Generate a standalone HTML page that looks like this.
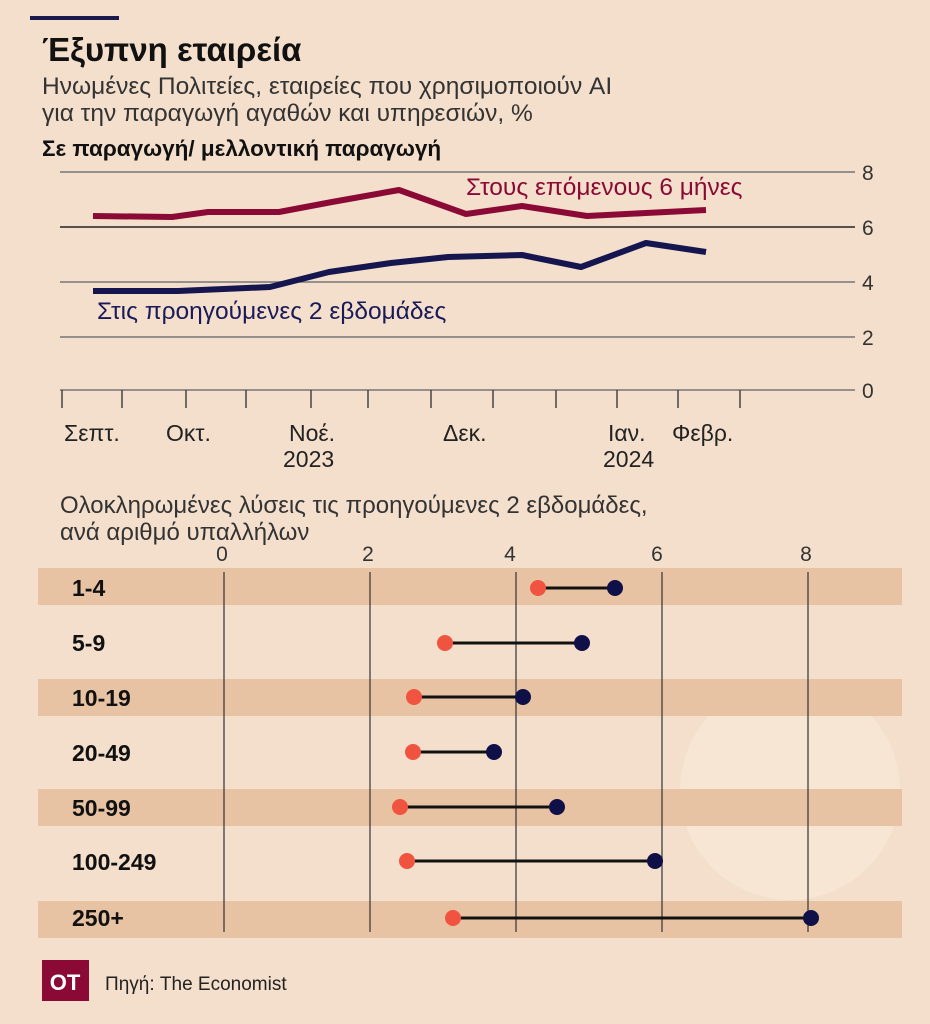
<!DOCTYPE html>
<html><head><meta charset="utf-8"><style>
body{margin:0;background:#f3dfcb;}
svg{display:block;font-family:"Liberation Sans",sans-serif;}
</style></head><body>
<svg width="930" height="1024" viewBox="0 0 930 1024">
<rect width="930" height="1024" fill="#f3dfcb"/>
<circle cx="790" cy="790" r="110" fill="#f7e8d6" opacity="0.7"/>
<rect x="30" y="16" width="89" height="4" fill="#1b1a4d"/>
<text x="42" y="61" font-size="33" font-weight="bold" fill="#111">Έξυπνη εταιρεία</text>
<text x="42" y="94" font-size="24.5" fill="#333">Ηνωμένες Πολιτείες, εταιρείες που χρησιμοποιούν AI</text>
<text x="42" y="121" font-size="24.5" fill="#333">για την παραγωγή αγαθών και υπηρεσιών, %</text>
<text x="42" y="156" font-size="22.5" font-weight="bold" fill="#111">Σε παραγωγή/ μελλοντική παραγωγή</text>
<g stroke-width="1.5">
<line x1="60" y1="172" x2="855" y2="172" stroke="#777"/>
<line x1="60" y1="227" x2="855" y2="227" stroke="#222"/>
<line x1="60" y1="282" x2="855" y2="282" stroke="#777"/>
<line x1="60" y1="337" x2="855" y2="337" stroke="#777"/>
<line x1="60" y1="390" x2="855" y2="390" stroke="#777"/>
</g>
<g font-size="21" fill="#333">
<text x="862" y="180">8</text><text x="862" y="235">6</text><text x="862" y="290">4</text><text x="862" y="345">2</text><text x="862" y="398">0</text>
</g>
<g stroke="#444" stroke-width="1.5">
<line x1="62" y1="390" x2="62" y2="408"/><line x1="122" y1="390" x2="122" y2="408"/><line x1="186" y1="390" x2="186" y2="408"/><line x1="246" y1="390" x2="246" y2="408"/><line x1="311" y1="390" x2="311" y2="408"/><line x1="368" y1="390" x2="368" y2="408"/><line x1="431" y1="390" x2="431" y2="408"/><line x1="493" y1="390" x2="493" y2="408"/><line x1="556" y1="390" x2="556" y2="408"/><line x1="617" y1="390" x2="617" y2="408"/><line x1="678" y1="390" x2="678" y2="408"/><line x1="740" y1="390" x2="740" y2="408"/>
</g>
<g font-size="23" fill="#222">
<text x="64" y="441">Σεπτ.</text><text x="166" y="441">Οκτ.</text><text x="289" y="441">Νοέ.</text><text x="443" y="441">Δεκ.</text><text x="608" y="441">Ιαν.</text><text x="672" y="441">Φεβρ.</text>
<text x="283" y="467">2023</text><text x="603" y="467">2024</text>
</g>
<polyline fill="none" stroke="#8b0a35" stroke-width="6" stroke-linejoin="round" points="93,216 172,217 208,212 279,212 332,202 399,190 466,214 522,206 587,216 646,213 706,210"/>
<polyline fill="none" stroke="#15164f" stroke-width="6" stroke-linejoin="round" points="93,291 178,291 270,287 329,272 391,263 448,257 522,255 581,267 646,243 706,252"/>
<text x="466" y="195" font-size="24.5" fill="#8b0a35">Στους επόμενους 6 μήνες</text>
<text x="97" y="319" font-size="24.5" fill="#1a1a5a">Στις προηγούμενες 2 εβδομάδες</text>
<text x="60" y="513" font-size="24" fill="#333">Ολοκληρωμένες λύσεις τις προηγούμενες 2 εβδομάδες,</text>
<text x="60" y="540" font-size="24" fill="#333">ανά αριθμό υπαλλήλων</text>
<g font-size="21" fill="#333" text-anchor="middle">
<text x="222" y="561">0</text><text x="368" y="561">2</text><text x="510" y="561">4</text><text x="657" y="561">6</text><text x="806" y="561">8</text>
</g>
<g fill="#e8c3a3">
<rect x="38" y="568" width="864" height="37"/><rect x="38" y="679" width="864" height="37"/><rect x="38" y="789" width="864" height="37"/><rect x="38" y="901" width="864" height="37"/>
</g>
<g stroke="#333" stroke-width="1.2">
<line x1="224" y1="572" x2="224" y2="932"/><line x1="370" y1="572" x2="370" y2="932"/><line x1="516" y1="572" x2="516" y2="932"/><line x1="662" y1="572" x2="662" y2="932"/><line x1="808" y1="572" x2="808" y2="932"/>
</g>
<g font-size="23" font-weight="bold" fill="#111">
<text x="72" y="596">1-4</text><text x="72" y="651">5-9</text><text x="72" y="706">10-19</text><text x="72" y="761">20-49</text><text x="72" y="816">50-99</text><text x="72" y="870">100-249</text><text x="72" y="926">250+</text>
</g>
<g stroke="#111" stroke-width="3">
<line x1="538" y1="588" x2="615" y2="588"/><line x1="445" y1="643" x2="582" y2="643"/><line x1="414" y1="697" x2="523" y2="697"/><line x1="413" y1="752" x2="494" y2="752"/><line x1="400" y1="807" x2="557" y2="807"/><line x1="407" y1="861" x2="655" y2="861"/><line x1="453" y1="918" x2="811" y2="918"/>
</g>
<g fill="#f0533f">
<circle cx="538" cy="588" r="8"/><circle cx="445" cy="643" r="8"/><circle cx="414" cy="697" r="8"/><circle cx="413" cy="752" r="8"/><circle cx="400" cy="807" r="8"/><circle cx="407" cy="861" r="8"/><circle cx="453" cy="918" r="8"/>
</g>
<g fill="#0f1048">
<circle cx="615" cy="588" r="8"/><circle cx="582" cy="643" r="8"/><circle cx="523" cy="697" r="8"/><circle cx="494" cy="752" r="8"/><circle cx="557" cy="807" r="8"/><circle cx="655" cy="861" r="8"/><circle cx="811" cy="918" r="8"/>
</g>
<rect x="42" y="960" width="47" height="41" fill="#8b0a35"/>
<text x="65" y="990" font-size="22" font-weight="bold" fill="#fff" text-anchor="middle">ΟΤ</text>
<text x="105" y="990" font-size="19" fill="#222">Πηγή: The Economist</text>
</svg>
</body></html>
